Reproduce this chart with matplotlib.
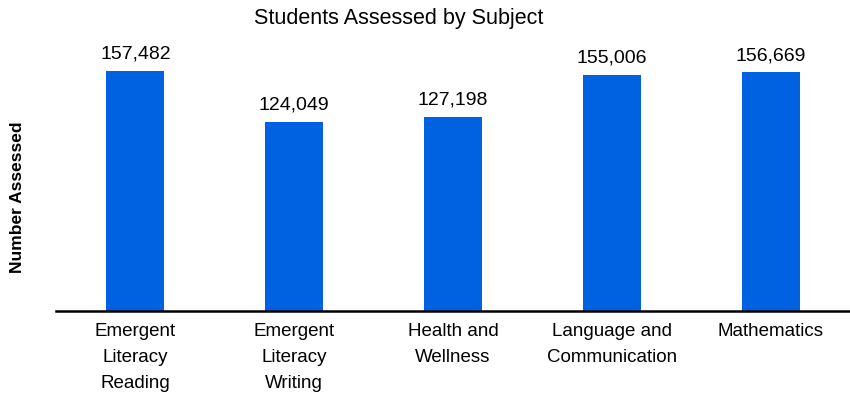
import matplotlib.pyplot as plt

plt.rcParams["font.family"] = ["Liberation Sans", "DejaVu Sans"]

subjects = [
    "Emergent\nLiteracy\nReading",
    "Emergent\nLiteracy\nWriting",
    "Health and\nWellness",
    "Language and\nCommunication",
    "Mathematics",
]
assessed = [157482, 124049, 127198, 155006, 156669]

fig = plt.figure(figsize=(8.5, 3.95), dpi=100)
ax = fig.add_axes([0.0659, 0.2127, 0.9341, 0.694])

x = range(len(subjects))
bars = ax.bar(x, assessed, width=0.365, color="#0062E0")
for rect, val in zip(bars, assessed):
    ax.annotate(f"{val:,}", (rect.get_x() + rect.get_width() / 2, val),
                xytext=(0, 6), textcoords="offset points",
                ha="center", va="bottom", fontsize=14)

ax.set_xlim(-0.5, 4.5)
ax.set_ylim(0, 180000)
ax.set_xticks(list(x))
ax.set_xticklabels(subjects, fontsize=13.5, linespacing=1.7, va="top")
ax.tick_params(axis="x", length=0, pad=8.5)
ax.set_yticks([])
for side in ["top", "right", "left"]:
    ax.spines[side].set_visible(False)
ax.spines["bottom"].set_linewidth(1.8)
ax.spines["bottom"].set_color("black")

fig.text(0.469, 0.952, "Students Assessed by Subject", ha="center",
         va="center", fontsize=15.5)
fig.text(0.021, 0.5, "Number Assessed", rotation=90, ha="center",
         va="center", fontsize=12.5, fontweight="bold")

fig.savefig("out.png", dpi=100)
